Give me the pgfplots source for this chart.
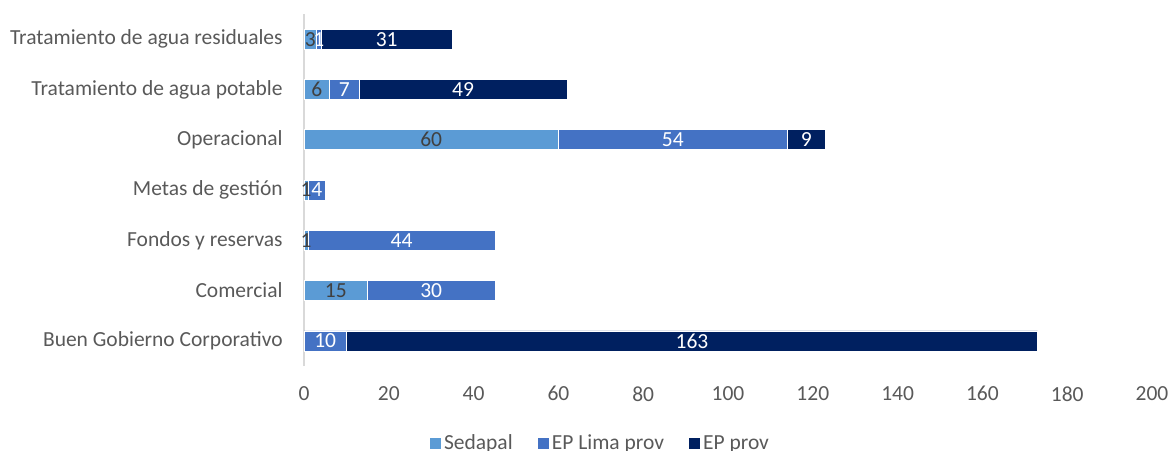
\documentclass[border=0pt]{standalone}
\usepackage{fontspec}
\setmainfont{Carlito}
\usepackage{pgfplots}
\usepackage{pgfplotstable}
\pgfplotsset{compat=1.18}
\definecolor{sed}{HTML}{5B9BD5}
\definecolor{lima}{HTML}{4472C4}
\definecolor{prov}{HTML}{002060}
\definecolor{txt}{HTML}{595959}
\definecolor{lbl}{HTML}{404040}
\definecolor{axl}{HTML}{D9D9D9}
\pgfplotstableread{
y sed lima prov
0 0 10 163
1 15 30 0
2 1 44 0
3 1 4 0
4 60 54 9
5 6 7 49
6 3 1 31
}\datatable
\pgfplotsset{
  seglabel/.style 2 args={
    point meta=\thisrow{#1},
    nodes near coords={\pgfmathfloatifflags{\pgfplotspointmeta}{0}{}{\pgfmathprintnumber{\pgfplotspointmeta}}},
    every node near coord/.style={anchor=center, text=#2},
  }
}
\begin{document}
\fontsize{21.5bp}{25bp}\selectfont
\begin{tikzpicture}
\useasboundingbox (0,0) rectangle (1171bp,451bp);
\begin{axis}[
  at={(304bp,85bp)}, anchor=south west,
  scale only axis, width=848bp, height=352bp,
  xbar stacked, bar width=20bp,
  xmin=0, xmax=200, ymin=-0.5, ymax=6.5,
  ytick={0,...,6},
  yticklabels={Buen Gobierno Corporativo, Comercial, Fondos y reservas, Metas de gestión, Operacional, Tratamiento de agua potable, Tratamiento de agua residuales},
  xtick={0,20,...,200},
  axis y line*=left, axis x line*=bottom,
  x axis line style={draw=none},
  y axis line style={draw=axl, line width=1.2bp, -},
  major tick length=0pt,
  tick label style={text=txt},
  yticklabel style={xshift=-14bp},
  xticklabel style={yshift=-13bp},
  /pgf/number format/assume math mode=true,
  clip=false,
  every axis plot post/.append style={draw=white, line width=0.6bp,
    legend image code/.code={\fill[##1] (0bp,-6bp) rectangle (12.5bp,6.5bp);}},
  legend style={at={(axis description cs:0.349,-0.221)}, anchor=center,
    draw=none, fill=none, legend columns=3, text=txt,
    /tikz/every even column/.append style={column sep=22bp}},
]
\addplot[fill=sed, seglabel={sed}{lbl}] table[x=sed, y=y] {\datatable};
\addplot[fill=lima, seglabel={lima}{white}] table[x=lima, y=y] {\datatable};
\addplot[fill=prov, seglabel={prov}{white}] table[x=prov, y=y] {\datatable};
\legend{Sedapal, EP Lima prov, EP prov}
\end{axis}
\end{tikzpicture}
\end{document}
